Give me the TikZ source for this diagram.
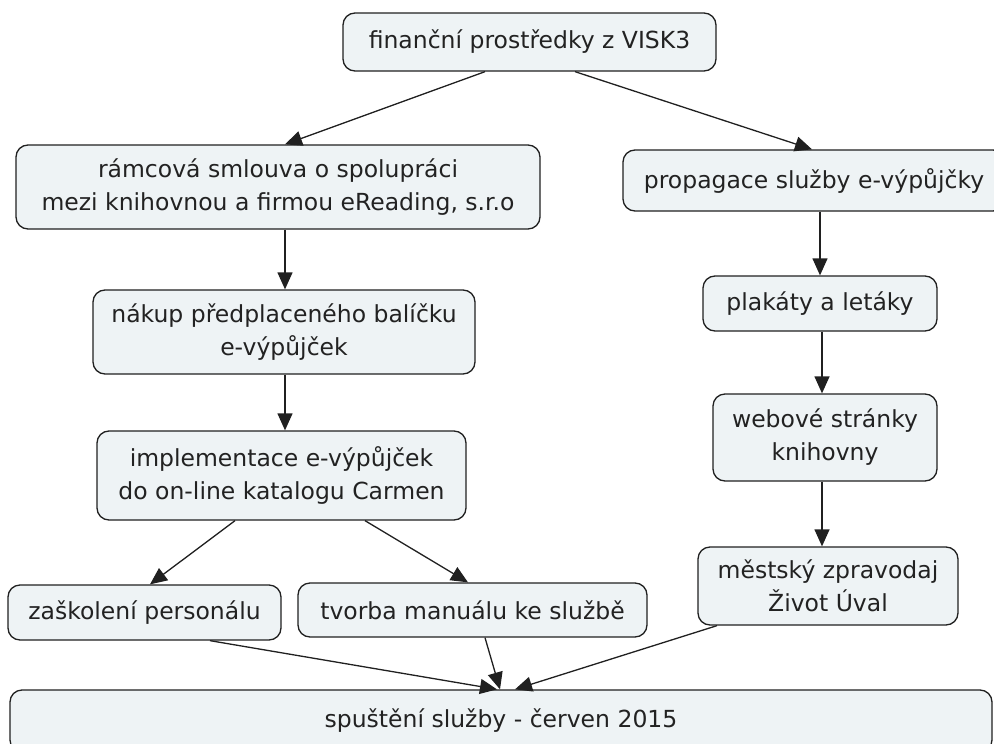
\documentclass[tikz,border=0pt]{standalone}
\usepackage{fontspec}
\setmainfont{DejaVu Sans}
\usetikzlibrary{arrows.meta}
\definecolor{boxfill}{HTML}{EEF3F5}
\definecolor{textcol}{HTML}{222222}
\definecolor{linecol}{HTML}{202020}
\begin{document}
\begin{tikzpicture}[x=1pt,y=-1pt,
 box/.style={draw=linecol, line width=1.3pt, fill=boxfill, rounded corners=12pt, align=center, text=textcol, font=\fontsize{23.5}{33}\selectfont, inner sep=0pt},
 arr/.style={line width=1.3pt, draw=linecol, -{Triangle[length=17pt,width=15pt]}}]
\useasboundingbox (0,0) rectangle (994,744);
\node[box, minimum width=373, minimum height=58] (fin) at (529.5,42) {finanční prostředky z VISK3};
\node[box, minimum width=524, minimum height=84] (ram) at (278,187) {rámcová smlouva o spolupráci\\mezi knihovnou a firmou eReading, s.r.o};
\node[box, minimum width=382, minimum height=61] (prop) at (814,180.5) {propagace služby e-výpůjčky};
\node[box, minimum width=382, minimum height=84] (nak) at (284,332) {nákup předplaceného balíčku\\e-výpůjček};
\node[box, minimum width=234, minimum height=55] (plak) at (820,303.5) {plakáty a letáky};
\node[box, minimum width=369, minimum height=89] (impl) at (281.5,475.5) {implementace e-výpůjček\\do on-line katalogu Carmen};
\node[box, minimum width=224, minimum height=87] (web) at (825,437.5) {webové stránky\\knihovny};
\node[box, minimum width=273, minimum height=55] (zas) at (144.5,612.5) {zaškolení personálu};
\node[box, minimum width=349, minimum height=54] (tvor) at (472.5,610) {tvorba manuálu ke službě};
\node[box, minimum width=260, minimum height=78] (mes) at (828,586) {městský zpravodaj\\Život Úval};
\node[box, minimum width=982, minimum height=62] (spu) at (501,721) {spuštění služby - červen 2015};

\draw[arr] ([xshift=-44.5pt]fin.south) -- ([xshift=7pt]ram.north);
\draw[arr] ([xshift=45.5pt]fin.south) -- ([xshift=-2pt]prop.north);
\draw[arr] ([xshift=7pt]ram.south) -- ([xshift=7pt]ram.south |- nak.north);
\draw[arr] ([xshift=1pt]nak.south) -- ([xshift=1pt]nak.south |- impl.north);
\draw[arr] ([xshift=-46.5pt]impl.south) -- ([xshift=5.5pt]zas.north);
\draw[arr] ([xshift=83.5pt]impl.south) -- ([xshift=-4.5pt]tvor.north);
\draw[arr] ([xshift=6pt]prop.south) -- ([xshift=6pt]prop.south |- plak.north);
\draw[arr] ([xshift=2pt]plak.south) -- ([xshift=2pt]plak.south |- web.north);
\draw[arr] ([xshift=-3pt]web.south) -- ([xshift=-3pt]web.south |- mes.north);
\draw[arr] ([xshift=65.5pt]zas.south) -- ([xshift=-4pt]spu.north);
\draw[arr] ([xshift=12.5pt]tvor.south) -- ([xshift=-1pt]spu.north);
\draw[arr] ([xshift=-111pt]mes.south) -- ([xshift=14pt]spu.north);
\end{tikzpicture}
\end{document}
